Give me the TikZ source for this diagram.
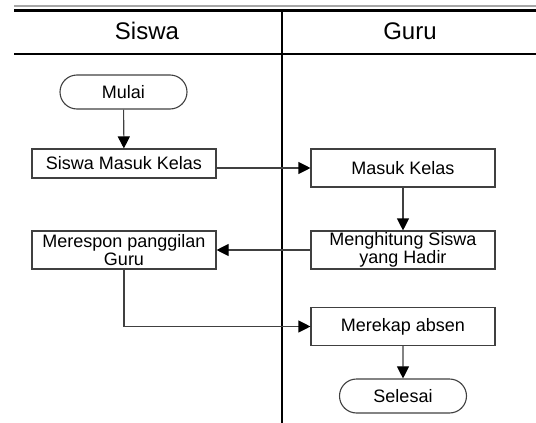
\documentclass[tikz,border=0pt]{standalone}
\usepackage{fontspec}
\setmainfont{Liberation Sans}
\usetikzlibrary{arrows.meta,shapes.misc}
\begin{document}
\begin{tikzpicture}[x=1pt,y=-1pt,
  base/.style={draw=black!75,line width=1.1pt,inner sep=0pt,
    font=\fontsize{18}{17.5}\selectfont,align=center},
  proc/.style={base,rectangle,minimum width=184pt,minimum height=38pt},
  term/.style={base,rounded rectangle,minimum width=127pt,minimum height=34pt},
  flow/.style={draw=black!75,line width=1.1pt,
    -{Triangle[length=12pt,width=12pt,color=black]}},
  lane/.style={line width=2.4pt,black},
  header/.style={font=\fontsize{24}{24}\selectfont}]
\useasboundingbox (0,0) rectangle (536,423);
% swimlane frame
\draw[line width=2pt,black!35] (14,5.5) -- (536,5.5);
\draw[lane] (14,10.5) -- (536,10.5);
\draw[lane] (14,54) -- (536,54);
\draw[lane] (282,10.5) -- (282,423);
\node[header] (hs) at (147,31) {Siswa};
\node[header] (hg) at (410,31) {Guru};
% steps
\node[term] (mulai) at (123.5,92) {Mulai};
\node[proc,minimum height=29pt] (smk) at (124,163.5) {Siswa Masuk Kelas};
\node[proc] (mr) at (124,250) {Merespon panggilan\\Guru};
\node[proc] (mk) at (403,168) {Masuk Kelas};
\node[proc] (mh) at (403,250) {Menghitung Siswa\\yang Hadir};
\node[proc] (ma) at (403,326.5) {Merekap absen};
\node[term] (sel) at (403,396) {Selesai};
% connectors
\draw[flow] (mulai) -- (smk);
\draw[flow] (smk.east |- mk.west) -- (mk.west);
\draw[flow] (mk) -- (mh);
\draw[flow] (mh.west) -- (mr.east);
\draw[flow] (mr.south) |- (ma.west);
\draw[flow] (ma) -- (sel);
\end{tikzpicture}
\end{document}
